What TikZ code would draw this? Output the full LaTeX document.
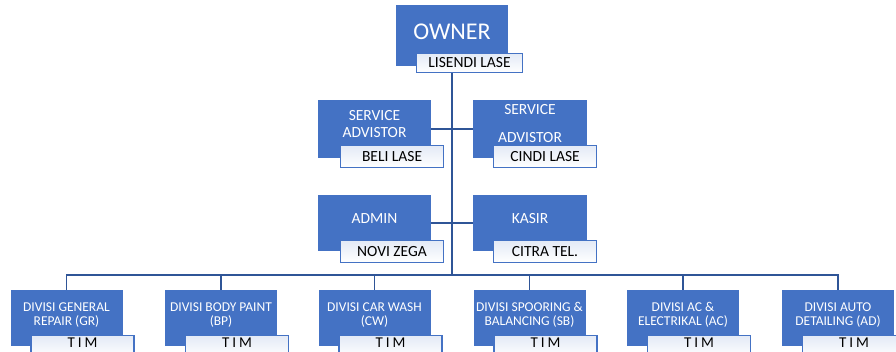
\documentclass[tikz,border=0pt]{standalone}
\usepackage{fontspec}
\setmainfont{Carlito}
\newfontfamily\timfont[LetterSpace=20]{Carlito}
\usepackage{tikz}
\usetikzlibrary{calc}
\usetikzlibrary{positioning}
\definecolor{boxblue}{HTML}{4472C4}
\definecolor{linkblue}{HTML}{2F5597}
\definecolor{namebg}{HTML}{E3EAF6}
\tikzset{
	posbox/.style={
		rectangle,
		fill=boxblue,
		% draw=white,
		text=white,
		minimum width=113pt,
		minimum height=56pt,
		inner sep=0pt,
		font=\fontsize{15.5}{18.6}\selectfont,
		align=center},
	divbox/.style={
		posbox,
		minimum width=112pt,
		font=\fontsize{13.5}{16.2}\selectfont,
		lift=14.7pt},
	namebox/.style={
		rectangle,
		draw=boxblue, line width=1.3pt,
		top color=namebg, bottom color=white,
		minimum width=103pt,
		minimum height=22pt,
		inner sep=0pt,
		font=\fontsize{15.5}{18}\selectfont,
		anchor=north east},
	timbox/.style={
		namebox,
		lift=3pt,
		font=\timfont\fontsize{15}{18}\selectfont},
	lift/.style={text height=#1, text depth=0pt},
	line/.style={draw=linkblue, line width=1.4pt},
}
\begin{document}
\begin{tikzpicture}[x=1pt, y=-1pt]
	\useasboundingbox (0,0) rectangle (896,352);
	\clip (0,0) rectangle (896,352);
	% owner
	\node[posbox, minimum width=112pt, minimum height=61pt, lift=8.4pt, font=\fontsize{24}{28}\selectfont] (owner) at (452,35.5) {OWNER};
	% staff
	\node[posbox, minimum height=58pt, lift=18pt] (advisor1) at (374.5,129) {SERVICE\\[-1.6pt]ADVISTOR};
	\node[posbox, minimum width=114pt, minimum height=58pt, lift=28pt] (advisor2) at (530,129) {SERVICE\\[9.4pt]ADVISTOR};
	\node[posbox, lift=2pt] (admin) at (374.5,223) {ADMIN};
	\node[posbox, minimum width=114pt, lift=2pt] (kasir) at (530,223) {KASIR};
	% divisions
	\node[divbox] (gr) at (66.5,318) {DIVISI GENERAL\\[-2.2pt]REPAIR (GR)};
	\node[divbox] (bp) at (221,318) {DIVISI BODY PAINT\\[-2.2pt](BP)};
	\node[divbox] (cw) at (374.5,318) {DIVISI CAR WASH\\[-2.2pt](CW)};
	\node[divbox] (sb) at (529.5,318) {DIVISI SPOORING \&\\[-2.2pt]BALANCING (SB)};
	\node[divbox] (ac) at (683,318) {DIVISI AC \&\\[-2.2pt]ELECTRIKAL (AC)};
	\node[divbox] (ad) at (838,318) {DIVISI AUTO\\[-2.2pt]DETAILING (AD)};
	% connectors
	\coordinate (bar) at (452,275);
	\path[line] (owner) -- (bar);
	\path[line] (advisor1.east) -- (advisor2.west);
	\path[line] (admin.east) -- (kasir.west);
	\path[line] (gr.north) |- (bar) -| (ad.north);
	\path[line] (bp.north) -- (bp.north |- bar);
	\path[line] (cw.north) -- (cw.north |- bar);
	\path[line] (sb.north) -- (sb.north |- bar);
	\path[line] (ac.north) -- (ac.north |- bar);
	% names
	\node[namebox, minimum width=106pt, minimum height=19pt] (lisendi) at ($(owner.north east)+(15,48)$) {LISENDI LASE};
	\node[namebox] (beli) at ($(advisor1.north east)+(13,45)$) {BELI LASE};
	\node[namebox] (cindi) at ($(advisor2.north east)+(10,45)$) {CINDI LASE};
	\node[namebox] (novi) at ($(admin.north east)+(13,45)$) {NOVI ZEGA};
	\node[namebox] (citra) at ($(kasir.north east)+(10,45)$) {CITRA TEL.};
	\node[timbox] (timgr) at ($(gr.north east)+(12,45)$) {TIM};
	\node[timbox] (timbp) at ($(bp.north east)+(12,45)$) {TIM};
	\node[timbox] (timcw) at ($(cw.north east)+(12,45)$) {TIM};
	\node[timbox] (timsb) at ($(sb.north east)+(12,45)$) {TIM};
	\node[timbox] (timac) at ($(ac.north east)+(12,45)$) {TIM};
	\node[timbox] (timad) at ($(ad.north east)+(12,45)$) {TIM};
\end{tikzpicture}
\end{document}
